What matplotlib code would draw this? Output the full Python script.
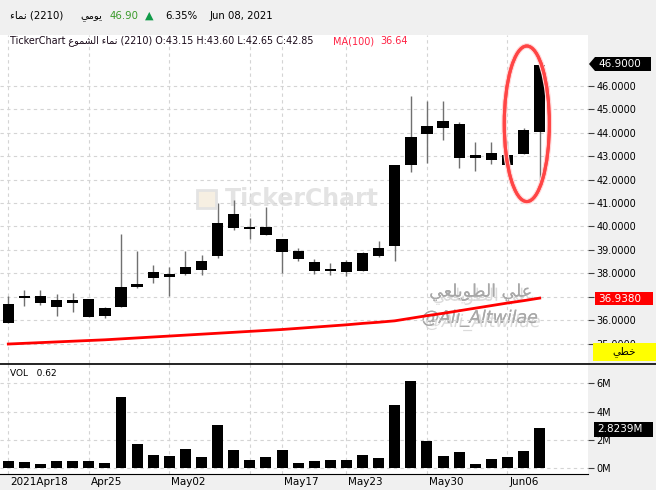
import unicodedata
import numpy as np
import matplotlib
matplotlib.use("Agg")
import matplotlib.pyplot as plt
from matplotlib import font_manager, ft2font
from matplotlib.patches import Polygon, Rectangle, Ellipse
import matplotlib.patheffects as pe

# daily candles, Apr 18 -> Jun 08 2021 (34 sessions)
opens = [35.89, 36.94, 37.05, 36.85, 36.74, 36.89, 36.18, 36.57, 37.41, 37.80,
         37.96, 37.96, 38.13, 38.74, 39.93, 39.96, 39.96, 39.45, 38.94, 38.47,
         38.18, 38.04, 38.09, 38.72, 39.15, 42.64, 43.96, 44.21, 44.38, 42.94,
         43.15, 43.06, 43.11, 44.05]
highs = [37.02, 37.28, 37.28, 37.11, 37.16, 36.89, 36.55, 39.66, 38.94, 38.34,
         38.26, 38.94, 38.77, 41.02, 41.11, 40.38, 40.81, 39.45, 39.06, 38.60,
         38.43, 38.55, 38.89, 39.36, 42.64, 45.57, 45.36, 45.36, 44.47, 43.62,
         43.60, 43.66, 44.21, 46.90]
lows = [35.89, 36.60, 36.65, 36.18, 36.35, 36.14, 36.10, 36.57, 37.36, 37.59,
        37.03, 37.93, 37.93, 38.65, 39.84, 39.45, 39.63, 38.01, 38.51, 37.96,
        37.91, 37.87, 38.09, 38.68, 38.51, 42.34, 42.72, 43.70, 42.51, 42.38,
        42.65, 42.47, 43.11, 41.70]
closes = [36.68, 37.05, 36.74, 36.57, 36.85, 36.14, 36.51, 37.40, 37.53, 38.04,
          37.84, 38.26, 38.51, 40.13, 40.55, 39.87, 39.63, 38.89, 38.60, 38.09,
          38.09, 38.47, 38.85, 39.06, 42.64, 43.83, 44.30, 44.51, 42.94, 43.06,
          42.85, 42.64, 44.10, 46.90]
ma100 = [34.98, 35.01, 35.04, 35.07, 35.10, 35.13, 35.16, 35.20, 35.24, 35.28,
         35.32, 35.36, 35.40, 35.44, 35.48, 35.52, 35.56, 35.60, 35.65, 35.70,
         35.75, 35.80, 35.86, 35.91, 35.97, 36.08, 36.19, 36.29, 36.40, 36.51,
         36.62, 36.73, 36.83, 36.94]
volume_m = [0.49, 0.42, 0.28, 0.49, 0.49, 0.49, 0.35, 5.01, 1.69, 0.92,
            0.85, 1.34, 0.78, 3.04, 1.27, 0.56, 0.78, 1.27, 0.35, 0.49,
            0.56, 0.56, 0.92, 0.71, 4.45, 6.14, 1.91, 0.85, 1.13, 0.28,
            0.64, 0.78, 1.20, 2.82]

grid_idx = [0, 5, 10, 15, 17, 21, 26, 31]
label_idx = [0, 5, 10, 17, 21, 26, 31]
label_txt = ["2021Apr18", "Apr25", "May02", "May17", "May23", "May30", "Jun06"]
price_ticks = [35, 36, 37, 38, 39, 40, 41, 42, 43, 44, 45, 46]
vol_ticks = [0, 2, 4, 6]

# arabic strings, pre-shaped (presentation forms, visual order)
namaa = "\uFE80\uFE8E\uFEE4\uFEE7"
daily = "\uFEF2\uFEE3\uFEEE\uFEF3"
candles_ar = "\uFEC9\uFEEE\uFEE4\uFEB8\uFEDF\uFE8D"
linear_ar = "\uFEF2\uFEC4\uFEA7"
author_ar = "\uFEF2\uFECC\uFEE0\uFEF3\uFEEE\uFEC4\uFEDF\uFE8D \uFEF2\uFEE0\uFECB"


def cmap_of(path):
    try:
        return set(ft2font.FT2Font(path).get_charmap())
    except Exception:
        return set()


# find an installed font with the arabic presentation forms
need = set(ord(c) for c in namaa + daily + candles_ar + linear_ar + author_ar if c != " ")
ar_family = None
for f in font_manager.fontManager.ttflist:
    if need <= cmap_of(f.fname):
        ar_family = f.name
        break
dv_cmap = cmap_of(font_manager.findfont("DejaVu Sans"))


def ar(s):
    # fall back to the plain letter when no font has the shaped form
    if ar_family:
        return s
    return "".join(c if (c == " " or ord(c) in dv_cmap) else unicodedata.normalize("NFKC", c)
                   for c in s)


AR_FAM = [ar_family, "DejaVu Sans"] if ar_family else ["DejaVu Sans"]

W, H = 656, 490
def fx(x):
    return x / W
def fy(y):
    return 1 - y / H

BG = "#f0f0f0"
GRID = "#d4d4d4"

fig = plt.figure(figsize=(6.56, 4.9), dpi=100, facecolor=BG)
ax = fig.add_axes([0, fy(363), 588 / W, (363 - 35) / H])
axv = fig.add_axes([0, fy(474), 588 / W, (474 - 364) / H])

x = np.arange(len(closes))

# price panel
for i in x:
    ax.vlines(i, lows[i], highs[i], color="#707070", lw=1, zorder=2)
body_lo = np.minimum(opens, closes)
body_h = np.maximum(np.abs(np.array(closes) - np.array(opens)), 0.08)
ax.bar(x, body_h, bottom=body_lo, width=0.7, color="black", zorder=3)
ax.plot(x, ma100, color="#ff0000", lw=2, zorder=4)

ax.set_xlim(-0.515, 36.0)
ax.set_ylim(34.17, 48.17)
ax.yaxis.tick_right()
ax.set_yticks(price_ticks)
ax.yaxis.set_major_formatter(lambda v, p: "" if v == 37 else f"{v:.4f}")
ax.set_xticks(grid_idx)
ax.tick_params(axis="x", length=0, labelbottom=False)
ax.tick_params(axis="y", length=4, width=0.8, color="#404040", labelsize=7, pad=2)
ax.grid(True, color=GRID, ls=(0, (3, 3)), lw=0.8)
for s in ax.spines.values():
    s.set_visible(False)

# watermarks
ax.text(fx(302), fy(199), "TickerChart", transform=fig.transFigure, fontsize=17,
        weight="bold", color="#e3e3e3", ha="center", va="center", zorder=1)
fig.patches.append(Rectangle((fx(197), fy(208)), 19 / W, 18 / H, transform=fig.transFigure,
                             facecolor="#f6efe2", edgecolor="#e3e3e3", lw=2, zorder=0.5))
shadow = [pe.withSimplePatchShadow(offset=(2, -3), shadow_rgbFace="#b0b0b0", alpha=0.45),
          pe.Normal()]
ax.text(fx(481), fy(292), ar(author_ar), transform=fig.transFigure, fontsize=12.5,
        color="#a8a8a8", ha="center", va="center", family=AR_FAM, zorder=1,
        path_effects=shadow)
ax.text(fx(480), fy(318), "@Ali_Altwilae", transform=fig.transFigure, fontsize=12.5,
        style="italic", color="#a8a8a8", ha="center", va="center", zorder=1,
        path_effects=shadow)

# ellipse around the last two sessions
ax.add_patch(Ellipse((len(x) - 1.8, 44.38), 2.8, 6.64, fill=False, edgecolor="#ff4545",
                     lw=2.2, zorder=5,
                     path_effects=[pe.withStroke(linewidth=4, foreground="#ffd6d6"), pe.Normal()]))

# volume panel
axv.bar(x, volume_m, width=0.68, color="black", zorder=3)
axv.set_xlim(-0.515, 36.0)
axv.set_ylim(-0.41, 7.36)
axv.yaxis.tick_right()
axv.set_yticks(vol_ticks)
axv.yaxis.set_major_formatter(lambda v, p: f"{v:.0f}M")
axv.set_xticks(grid_idx)
axv.tick_params(axis="x", length=0, labelbottom=False)
axv.tick_params(axis="y", length=4, width=0.8, color="#404040", labelsize=7, pad=2)
axv.grid(True, color=GRID, ls=(0, (3, 3)), lw=0.8)
for s in axv.spines.values():
    s.set_visible(False)
axv.spines["bottom"].set_visible(True)
axv.spines["bottom"].set_color("black")
for i, t in zip(label_idx, label_txt):
    axv.text(i + 0.12, -0.07, t, transform=axv.get_xaxis_transform(), fontsize=7.5,
             ha="left", va="center")

# separator line
fig.add_artist(plt.Line2D([0, 1], [fy(363.5), fy(363.5)], color="black", lw=1.2,
                          transform=fig.transFigure))

# header
hy = fy(16)
fig.text(fx(10), hy, ar(namaa) + " (2210)", fontsize=7.3, va="center", family=AR_FAM)
fig.text(fx(80), hy, ar(daily), fontsize=7.3, va="center", family=AR_FAM)
fig.text(fx(110), hy, "46.90", fontsize=7.3, va="center", color="#3a9a2a")
fig.text(fx(145), hy, "\u25B2", fontsize=8, va="center", color="#109a48")
fig.text(fx(165), hy, "6.35%", fontsize=7.3, va="center")
fig.text(fx(210), hy, "Jun 08, 2021", fontsize=7.3, va="center")

ly = fy(41)
fig.text(fx(10), ly, "TickerChart " + ar(candles_ar) + " " + ar(namaa) +
         " (2210) O:43.15 H:43.60 L:42.65 C:42.85", fontsize=6.9, va="center",
         color="#1a0a1a", family=AR_FAM)
fig.text(fx(333), ly, "MA(100)", fontsize=7, va="center", color="#ff2244")
fig.text(fx(380), ly, "36.64", fontsize=7, va="center", color="#ff2244")
fig.text(fx(10), fy(373), "VOL   0.62", fontsize=6.5, va="center")

# right side value flags
fig.patches.append(Polygon([(fx(589), fy(64)), (fx(595), fy(57)), (fx(651), fy(57)),
                            (fx(651), fy(71)), (fx(595), fy(71))], closed=True,
                           transform=fig.transFigure, facecolor="black", zorder=5))
fig.text(fx(598), fy(64), f"{closes[-1]:.4f}", fontsize=7.5, color="white", va="center", zorder=6)
fig.patches.append(Rectangle((fx(595), fy(305)), 58 / W, 13 / H, transform=fig.transFigure,
                             facecolor="#ff0000", zorder=5))
fig.text(fx(598), fy(298.5), "36.9380", fontsize=7.5, color="white", va="center", zorder=6)
fig.patches.append(Rectangle((fx(593), fy(361)), 63 / W, 18 / H, transform=fig.transFigure,
                             facecolor="#ffff00", zorder=5))
fig.text(fx(624), fy(352), ar(linear_ar), fontsize=7.5, color="black", va="center",
         ha="center", zorder=6, family=AR_FAM)
fig.patches.append(Rectangle((fx(594), fy(437)), 59 / W, 15 / H, transform=fig.transFigure,
                             facecolor="black", zorder=5))
fig.text(fx(597), fy(429.5), f"{volume_m[-1] + 0.0039:.4f}M", fontsize=7.5, color="white",
         va="center", zorder=6)

fig.savefig("out.png", dpi=100, facecolor=BG)
